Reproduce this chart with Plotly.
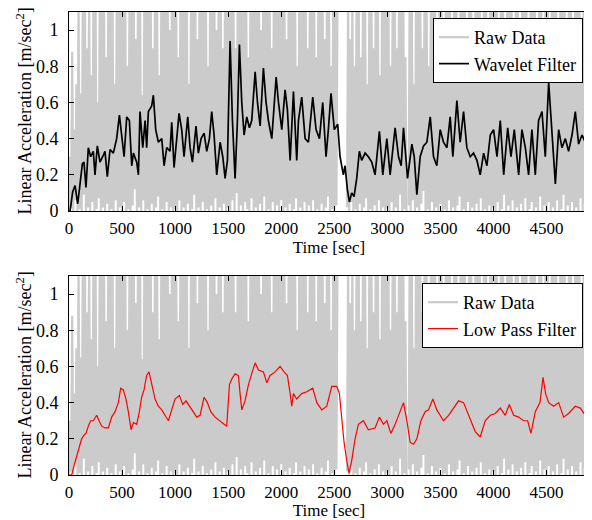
import numpy as np
from plotly import graph_objects as go

# raw accelerometer signal, read off as alternating local minima / maxima
# troughs at t = 0, 20, 40 ... ; peaks at t = 10, 30, 50 ...
RAW_TROUGH = [
    0.0, 0.02, 0.0, 0.06, 0.0, 0.01, 0.0, 0.09, 0.0, 0.02, 0.0, 0.05, 0.0, 0.01, 0.07, 0.0, 0.02, 0.0, 0.04, 0.0, 0.01, 0.0, 0.06, 0.0, 0.02,
    0.0, 0.05, 0.0, 0.01, 0.0, 0.03, 0.12, 0.0, 0.02, 0.0, 0.06, 0.0, 0.01, 0.0, 0.04, 0.0, 0.02, 0.08, 0.0, 0.01, 0.0, 0.05, 0.0, 0.02, 0.0,
    0.01, 0.0, 0.06, 0.0, 0.02, 0.0, 0.04, 0.0, 0.01, 0.09, 0.0, 0.02, 0.0, 0.05, 0.0, 0.01, 0.0, 0.03, 0.0, 0.07, 0.0, 0.02, 0.0, 0.04, 0.0,
    0.02, 0.0, 0.06, 0.0, 0.1, 0.0, 0.03, 0.0, 0.05, 0.01, 0.0, 0.07, 0.0, 0.02, 0.0, 0.04, 0.0, 0.08, 0.0, 0.01, 0.0, 0.05, 0.0, 0.03, 0.0,
    0.06, 0.0, 0.02, 0.0, 0.04, 0.0, 0.01, 0.07, 0.0, 0.02, 0.0, 0.05, 0.0, 0.03, 0.0, 0.06, 0.0, 0.01, 0.0, 0.04, 0.0, 0.02, 0.08, 0.0, 0.01,
    0.0, 0.03, None, None, None, 0.0, 0.02, 0.0, 0.05, 0.0, 0.01, 0.0, 0.04, 0.0, 0.02, 0.07, 0.0, 0.01, 0.0, 0.03, 0.0, 0.06, 0.0, 0.02, 0.0,
    0.01, 0.0, 0.05, 0.0, 0.02, 0.0, 0.09, 0.0, 0.01, 0.0, 0.03, 0.0, 0.06, 0.0, 0.02, 0.0, 0.04, 0.11, 0.0, 0.01, 0.0, 0.05, 0.0, 0.02, 0.0,
    0.04, 0.0, 0.01, 0.0, 0.06, 0.0, 0.02, 0.0, 0.03, 0.08, 0.0, 0.01, 0.0, 0.05, 0.0, 0.02, 0.0, 0.04, 0.0, 0.07, 0.0, 0.01, 0.0, 0.03, 0.0,
    0.02, 0.0, 0.05, 0.0, 0.01, 0.09, 0.0, 0.03, 0.0, 0.06, 0.0, 0.02, 0.0, 0.04, 0.0, 0.07, 0.0, 0.01, 0.05, 0.0, 0.02, 0.0, 0.08, 0.0, 0.03,
    0.0, 0.05, 0.0, 0.02, 0.0, 0.06, 0.0, 0.01, 0.09, 0.0, 0.03, 0.0, 0.05, 0.0, 0.02, 0.0, 0.07, 0.0, 0.04, 0.0,
]
RAW_PEAK = [
    0.3, 0.88, 0.45, 0.7, 1.2, 0.65, 1.2, 1.2, 0.9, 1.2, 0.75, 1.2, 1.2, 0.6, 1.2, 1.2, 1.2, 0.85, 1.2, 1.2, 1.2, 0.7, 1.2, 1.2, 1.2,
    1.2, 1.2, 0.8, 1.2, 1.2, 1.2, 0.95, 1.2, 1.2, 0.64, 1.2, 1.2, 1.2, 1.2, 0.9, 1.2, 1.2, 0.75, 1.2, 1.2, 1.2, 1.2, 1.0, 1.2, 1.2,
    1.2, 0.85, 1.2, 1.2, 1.2, 1.2, 0.7, 1.2, 1.2, 1.2, 0.95, 1.2, 1.2, 1.2, 1.2, 0.8, 1.2, 1.2, 1.2, 1.0, 1.2, 1.2, 0.9, 1.2, 1.2,
    1.2, 1.2, 1.2, 0.9, 1.2, 1.2, 1.2, 1.2, 1.2, 0.85, 1.2, 1.2, 1.2, 1.2, 1.2, 1.0, 1.2, 1.2, 1.2, 1.2, 0.9, 1.2, 1.2, 1.2, 1.2,
    1.2, 1.2, 0.95, 1.2, 1.2, 1.2, 1.2, 0.8, 1.2, 1.2, 1.2, 1.2, 0.9, 1.2, 1.2, 1.2, 0.85, 1.2, 1.2, 1.2, 0.95, 1.2, 1.2, 0.8, 1.2,
    1.2, 1.2, 0.9, None, None, None, 1.2, 0.95, 1.2, 0.8, 1.2, 1.2, 0.85, 1.2, 1.2, 0.7, 1.2, 1.2, 0.9, 1.2, 1.2, 0.75, 1.2, 1.2, 1.2,
    1.2, 0.8, 1.2, 1.2, 0.9, 1.2, 1.2, 1.2, 0.85, None, 1.2, 1.2, 0.7, 1.2, 1.2, 1.2, 0.9, 1.2, 1.2, 0.8, 1.2, 1.2, 1.2, 0.95, 1.2,
    1.2, 0.75, 1.2, 1.2, 1.2, 0.9, 1.2, 1.2, 0.8, 1.2, 1.2, 1.2, 0.95, 1.2, 1.2, 0.85, 1.2, 1.2, 1.2, 0.9, 1.2, 1.2, 0.8, 1.2, 1.2,
    1.2, 1.2, 0.9, 1.2, 1.2, 0.85, 1.2, 1.2, 1.2, 0.95, 1.2, 1.2, 0.8, 1.2, 1.2, 1.2, 0.9, 1.2, 1.2, 1.2, 0.85, 1.2, 1.2, 0.95, 1.2,
    1.2, 0.9, 1.2, 1.2, 1.2, 0.8, 1.2, 1.2, 1.2, 0.95, 1.2, 1.2, 0.85, 1.2, 1.2, 1.2, 0.9, 1.2, 1.2, 1.2,
]

WAVELET_T = [
    10, 35, 57, 82, 104, 126, 141, 160, 182, 204, 229, 245, 267, 292, 317, 339, 361, 387, 418, 449,
    475, 497, 519, 544, 569, 591, 607, 638, 654, 669, 695, 717, 732, 748, 779, 795, 817, 842, 874, 896,
    921, 952, 968, 990, 1015, 1037, 1062, 1084, 1119, 1141, 1163, 1197, 1219, 1245, 1273, 1298, 1323, 1345, 1367, 1392,
    1424, 1449, 1471, 1493, 1518, 1540, 1565, 1587, 1606, 1628, 1650, 1675, 1700, 1722, 1754, 1776, 1801, 1832, 1857, 1879,
    1911, 1952, 1974, 2005, 2036, 2058, 2084, 2115, 2146, 2162, 2193, 2225, 2256, 2297, 2328, 2360, 2391, 2422, 2444, 2469,
    2500, 2532, 2554, 2585, 2601, 2623, 2642, 2664, 2686, 2711, 2736, 2758, 2790, 2821, 2853, 2884, 2925, 2957, 2995, 3026,
    3073, 3105, 3130, 3152, 3190, 3231, 3253, 3278, 3309, 3341, 3372, 3404, 3435, 3466, 3498, 3529, 3561, 3592, 3617, 3655,
    3686, 3718, 3749, 3781, 3812, 3844, 3875, 3907, 3938, 3970, 4001, 4033, 4064, 4096, 4134, 4165, 4196, 4237, 4268, 4300,
    4331, 4362, 4394, 4425, 4457, 4488, 4520, 4551, 4583, 4614, 4645, 4677, 4708, 4740, 4771, 4802, 4834, 4865, 4897,
]
WAVELET_V = [
    0.0, 0.107, 0.14, 0.04, 0.15, 0.26, 0.27, 0.13, 0.35, 0.3, 0.33, 0.2, 0.36, 0.27, 0.3, 0.33, 0.19, 0.34, 0.32, 0.4,
    0.53, 0.42, 0.3, 0.52, 0.5, 0.25, 0.32, 0.27, 0.2, 0.55, 0.35, 0.5, 0.35, 0.55, 0.58, 0.64, 0.45, 0.38, 0.4, 0.25,
    0.35, 0.33, 0.49, 0.24, 0.4, 0.54, 0.45, 0.3, 0.52, 0.35, 0.27, 0.47, 0.32, 0.4, 0.43, 0.33, 0.4, 0.55, 0.42, 0.2,
    0.38, 0.3, 0.18, 0.28, 0.94, 0.5, 0.18, 0.5, 0.92, 0.6, 0.42, 0.52, 0.46, 0.5, 0.77, 0.6, 0.47, 0.79, 0.6, 0.5,
    0.4, 0.74, 0.6, 0.45, 0.67, 0.56, 0.28, 0.66, 0.28, 0.5, 0.63, 0.4, 0.38, 0.63, 0.45, 0.4, 0.6, 0.3, 0.45, 0.65,
    0.45, 0.48, 0.3, 0.2, 0.25, 0.12, 0.05, 0.1, 0.08, 0.18, 0.33, 0.28, 0.32, 0.3, 0.27, 0.2, 0.44, 0.2, 0.4, 0.2,
    0.46, 0.3, 0.25, 0.46, 0.18, 0.37, 0.3, 0.09, 0.3, 0.36, 0.38, 0.52, 0.3, 0.25, 0.45, 0.38, 0.35, 0.52, 0.3, 0.61,
    0.38, 0.55, 0.35, 0.3, 0.32, 0.28, 0.2, 0.32, 0.25, 0.42, 0.45, 0.3, 0.5, 0.2, 0.46, 0.3, 0.45, 0.2, 0.45, 0.35,
    0.2, 0.45, 0.2, 0.5, 0.55, 0.3, 0.71, 0.4, 0.15, 0.45, 0.35, 0.4, 0.33, 0.42, 0.55, 0.37, 0.42, 0.38, 0.4,
]

LOWPASS_T = [
    0, 25, 47, 72, 97, 119, 141, 160, 182, 204, 229, 261, 283, 308, 339, 371, 402, 434, 465, 487,
    512, 537, 559, 585, 607, 638, 663, 685, 707, 732, 754, 779, 811, 842, 874, 905, 937, 968, 999, 1040,
    1072, 1103, 1135, 1172, 1204, 1235, 1273, 1304, 1336, 1377, 1424, 1461, 1486, 1512, 1534, 1565, 1597, 1612, 1628, 1659,
    1691, 1722, 1754, 1785, 1832, 1864, 1895, 1942, 1989, 2027, 2058, 2084, 2099, 2115, 2146, 2193, 2241, 2297, 2335, 2382,
    2429, 2476, 2523, 2548, 2570, 2592, 2617, 2639, 2664, 2696, 2727, 2774, 2821, 2884, 2925, 2963, 2995, 3033, 3073, 3121,
    3152, 3184, 3215, 3247, 3278, 3316, 3356, 3388, 3429, 3466, 3529, 3577, 3624, 3671, 3718, 3765, 3797, 3828, 3875, 3922,
    3970, 4017, 4064, 4111, 4149, 4190, 4237, 4284, 4322, 4353, 4394, 4438, 4467, 4491, 4520, 4567, 4614, 4661, 4708, 4771,
    4818, 4865, 4900,
]
LOWPASS_V = [
    0.0, 0.0, 0.05, 0.1, 0.15, 0.2, 0.22, 0.23, 0.27, 0.3, 0.3, 0.33, 0.3, 0.27, 0.26, 0.26, 0.32, 0.35, 0.4, 0.48,
    0.47, 0.42, 0.35, 0.25, 0.29, 0.28, 0.35, 0.43, 0.47, 0.55, 0.57, 0.5, 0.42, 0.38, 0.36, 0.33, 0.3, 0.36, 0.42, 0.44,
    0.39, 0.41, 0.38, 0.35, 0.32, 0.33, 0.43, 0.4, 0.35, 0.32, 0.3, 0.28, 0.27, 0.5, 0.53, 0.56, 0.55, 0.45, 0.36, 0.41,
    0.5, 0.56, 0.62, 0.58, 0.57, 0.51, 0.55, 0.57, 0.6, 0.57, 0.55, 0.45, 0.38, 0.45, 0.42, 0.45, 0.46, 0.48, 0.4, 0.36,
    0.38, 0.49, 0.49, 0.45, 0.3, 0.18, 0.08, 0.01, 0.08, 0.2, 0.28, 0.3, 0.25, 0.26, 0.32, 0.28, 0.3, 0.23, 0.28, 0.36,
    0.4, 0.3, 0.18, 0.17, 0.2, 0.3, 0.35, 0.36, 0.42, 0.36, 0.3, 0.33, 0.37, 0.41, 0.4, 0.33, 0.28, 0.24, 0.21, 0.3,
    0.33, 0.34, 0.37, 0.33, 0.39, 0.33, 0.32, 0.3, 0.3, 0.23, 0.35, 0.4, 0.54, 0.45, 0.4, 0.38, 0.4, 0.32, 0.34, 0.38,
    0.37, 0.33, 0.36,
]

X_TICKS = [0, 500, 1000, 1500, 2000, 2500, 3000, 3500, 4000, 4500]
Y_TICKS = [0, 0.2, 0.4, 0.6, 0.8, 1]
Y_TICKTEXT = ["0", "0.2", "0.4", "0.6", "0.8", "1"]
Y_TITLE = "Linear Acceleration [m/sec<sup>2</sup>]"

# interleave troughs and peaks on a 10 s grid
raw_t = np.arange(0, 10 * 2 * len(RAW_PEAK), 10)
raw_v = []
for lo, hi in zip(RAW_TROUGH, RAW_PEAK):
    raw_v.append(lo)
    raw_v.append(hi)

FONT = "Liberation Serif, Times New Roman, serif"
RAW_COLOR = "#cbcbcb"

fig = go.Figure()

fig.add_trace(go.Scatter(x=raw_t, y=raw_v, mode="lines", name="Raw Data",
                         line=dict(color=RAW_COLOR, width=2.2),
                         xaxis="x", yaxis="y", legend="legend"))
fig.add_trace(go.Scatter(x=WAVELET_T, y=WAVELET_V, mode="lines", name="Wavelet Filter",
                         line=dict(color="black", width=1.7),
                         xaxis="x", yaxis="y", legend="legend"))
fig.add_trace(go.Scatter(x=raw_t, y=raw_v, mode="lines", name="Raw Data",
                         line=dict(color=RAW_COLOR, width=2.2),
                         xaxis="x2", yaxis="y2", legend="legend2"))
fig.add_trace(go.Scatter(x=LOWPASS_T, y=LOWPASS_V, mode="lines", name="Low Pass Filter",
                         line=dict(color="#ff0000", width=1.2),
                         xaxis="x2", yaxis="y2", legend="legend2"))

axis_common = dict(
    showline=True, linecolor="black", linewidth=1, mirror="ticks",
    ticks="inside", ticklen=5, tickcolor="black", showgrid=False, zeroline=False,
    automargin=False,
)
xaxis_common = dict(axis_common, range=[0, 4900], tickvals=X_TICKS,
                    ticklabelstandoff=2,
                    tickfont=dict(family=FONT, size=17, color="black"),
                    title=dict(text="Time [sec]", font=dict(family=FONT, size=17, color="black"), standoff=0))
yaxis_common = dict(axis_common, range=[0, 1.1], tickvals=Y_TICKS, ticktext=Y_TICKTEXT,
                    ticklabelstandoff=6,
                    tickfont=dict(family=FONT, size=18, color="black"))

legend_common = dict(
    bgcolor="white", bordercolor="black", borderwidth=1,
    font=dict(family=FONT, size=18, color="black"),
    xref="paper", yref="paper", xanchor="right", yanchor="top",
    tracegroupgap=0,
)

# the page body adds an 8 px offset, so the figure is sized to fit 592x520
fig.update_layout(
    width=584, height=512,
    margin=dict(l=61, r=3, t=4, b=45, autoexpand=False),
    paper_bgcolor="white", plot_bgcolor="white",
    template="none",
    xaxis=dict(xaxis_common, domain=[0, 1], anchor="y"),
    yaxis=dict(yaxis_common, domain=[0.5702, 1], anchor="x"),
    xaxis2=dict(xaxis_common, domain=[0, 1], anchor="y2"),
    yaxis2=dict(yaxis_common, domain=[0, 0.4298], anchor="x2"),
    legend=dict(legend_common, x=0.9885, y=0.987),
    legend2=dict(legend_common, x=0.9885, y=0.4147),
    annotations=[
        dict(text=Y_TITLE, textangle=-90, xref="paper", yref="paper",
             x=-0.0865, y=0.7851, xanchor="center", yanchor="middle", showarrow=False,
             font=dict(family=FONT, size=18, color="black")),
        dict(text=Y_TITLE, textangle=-90, xref="paper", yref="paper",
             x=-0.0865, y=0.2149, xanchor="center", yanchor="middle", showarrow=False,
             font=dict(family=FONT, size=18, color="black")),
    ],
)

fig.write_html("out.html")
